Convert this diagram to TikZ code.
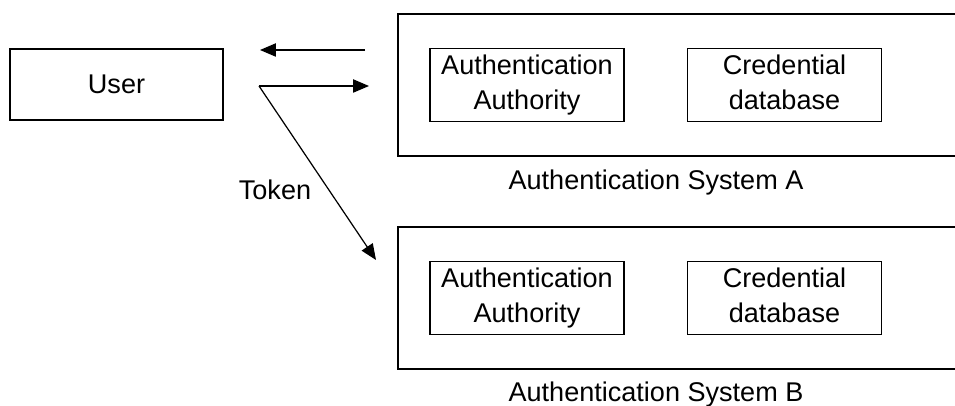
\documentclass[tikz,border=0pt]{standalone}
\usepackage{fontspec}
\setmainfont{Liberation Sans}
\usetikzlibrary{arrows.meta,positioning}

\begin{document}
\begin{tikzpicture}[
  font=\fontsize{15.4pt}{19.8pt}\selectfont,
  sysbox/.style={rectangle, draw, line width=0.8pt, minimum width=12cm, minimum height=2.84cm},
  part/.style={rectangle, draw, line width=1pt, minimum width=3.88cm, minimum height=1.44cm,
               align=center, inner sep=1pt},
  arr/.style={-{Triangle[length=9pt,width=7.5pt]}, line width=0.7pt}
]
\useasboundingbox (0,0) rectangle (19.1,8.12);

% User
\node[rectangle, draw, line width=1pt, minimum width=4.26cm, minimum height=1.42cm] (user) at (2.33,6.43) {User};

% System A
\node[sysbox] (sysA) at (13.96,6.42) {};
\node[part] (authA) at (10.54,6.42) {Authentication\strut\\Authority\strut};
\node[part] (credA) at (15.69,6.42) {Credential\strut\\database\strut};
\node (labA) at (13.12,4.46) {Authentication System A};

% System B
\node[sysbox] (sysB) at (13.96,2.16) {};
\node[part] (authB) at (10.54,2.16) {Authentication\strut\\Authority\strut};
\node[part] (credB) at (15.69,2.16) {Credential\strut\\database\strut};
\node (labB) at (13.12,0.22) {Authentication System B};

% Arrows
\coordinate (back) at (7.30,7.12);
\coordinate (backend) at (5.20,7.12);
\coordinate (fork) at (5.18,6.40);
\coordinate (toA) at (7.38,6.40);
\coordinate (toB) at (7.52,2.92);
\draw[arr] (back) -- (backend);
\draw[arr] (fork) -- (toA);
\draw[arr] (fork) -- (toB);
\node (token) at (5.50,4.32) {Token};
\end{tikzpicture}
\end{document}
